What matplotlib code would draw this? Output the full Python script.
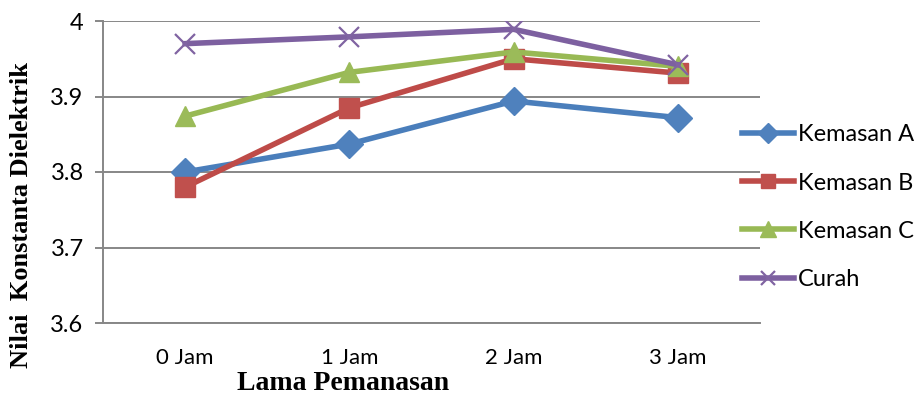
import matplotlib.pyplot as plt

waktu = ["0 Jam", "1 Jam", "2 Jam", "3 Jam"]
kemasan_a = [3.800, 3.837, 3.894, 3.872]
kemasan_b = [3.780, 3.885, 3.950, 3.931]
kemasan_c = [3.874, 3.932, 3.959, 3.940]
curah = [3.970, 3.979, 3.989, 3.942]

fig = plt.figure(figsize=(9.15, 3.98), dpi=100)
ax = fig.add_axes([103 / 915, 1 - 323 / 398, (760 - 103) / 915, (323 - 21) / 398])

x = range(len(waktu))
ax.plot(x, kemasan_a, color="#4A7EBB", lw=4, marker="D", ms=14,
        mfc="#4F81BD", mec="#4F81BD", label="Kemasan A", zorder=3)
ax.plot(x, kemasan_b, color="#BE4B48", lw=4, marker="s", ms=14,
        mfc="#C0504D", mec="#C0504D", label="Kemasan B", zorder=3)
ax.plot(x, kemasan_c, color="#98B954", lw=4, marker="^", ms=15,
        mfc="#9BBB59", mec="#9BBB59", label="Kemasan C", zorder=3)
ax.plot(x, curah, color="#7D60A0", lw=4, marker="x", ms=14, mew=1.6,
        mec="#8064A2", label="Curah", zorder=3)

ax.set_xlim(-0.5, len(waktu) - 0.5)
ax.set_ylim(3.6, 4.0)
ax.set_yticks([3.6, 3.7, 3.8, 3.9, 4.0])
ax.set_yticklabels(["3.6", "3.7", "3.8", "3.9", "4"])
ax.set_xticks(list(x))
ax.set_xticklabels(waktu)

ax.grid(axis="y", color="#878787", lw=1.4)
ax.set_axisbelow(True)
for s in ["top", "right"]:
    ax.spines[s].set_visible(False)
for s in ["left", "bottom"]:
    ax.spines[s].set_color("#878787")
    ax.spines[s].set_linewidth(1.4)
ax.tick_params(axis="y", length=6, width=1.4, color="#878787", pad=8,
               labelsize=17)
ax.tick_params(axis="x", length=0, pad=18, labelsize=16)
for lbl in ax.get_xticklabels() + ax.get_yticklabels():
    lbl.set_fontfamily("Lato")

fig.text(343 / 915, 1 - 384 / 398, "Lama Pemanasan", ha="center", va="center",
         fontfamily="Liberation Serif", fontweight="bold", fontsize=20)
fig.text(22 / 915, 1 - 215 / 398, "Nilai  Konstanta Dielektrik", ha="center",
         va="center", rotation=90, fontfamily="Liberation Serif",
         fontweight="bold", fontsize=19)

leg = fig.legend(loc="upper left", bbox_to_anchor=(733 / 915, 1 - 115 / 398),
                 frameon=False, prop={"family": "Lato", "size": 17},
                 handlelength=2.2, handletextpad=0.15, labelspacing=1.15,
                 markerscale=0.75, borderaxespad=0)

fig.savefig("out.png", dpi=100)
